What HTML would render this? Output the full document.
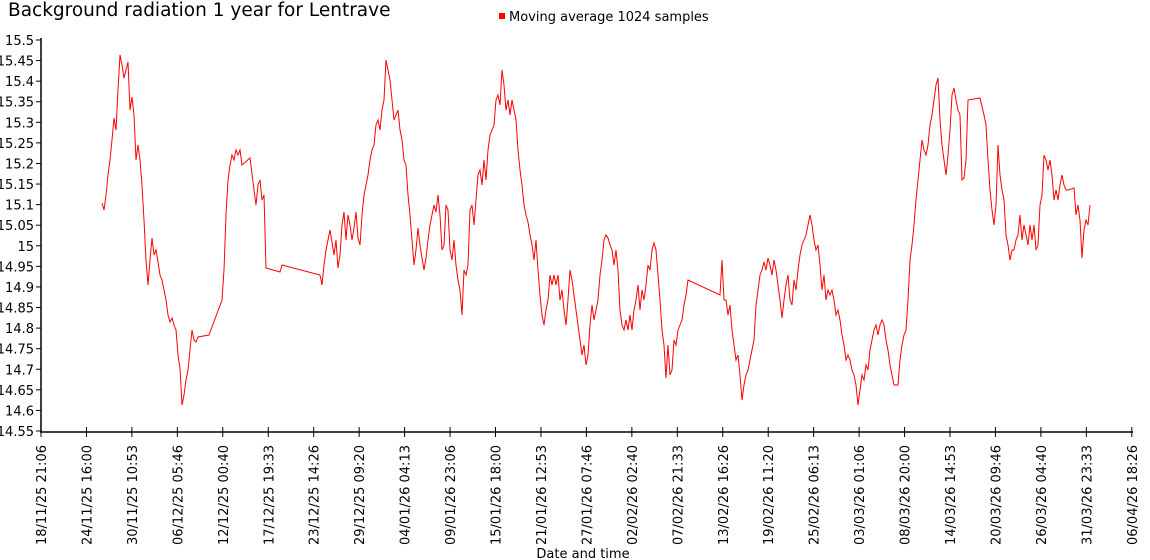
<!DOCTYPE html>
<html><head><meta charset="utf-8"><style>
body{margin:0;background:#fff}
svg{display:block;font-family:"DejaVu Sans","Liberation Sans",sans-serif}
</style></head><body>
<svg width="1150" height="560" viewBox="0 0 1150 560" xmlns="http://www.w3.org/2000/svg">
<text x="8" y="16" font-size="18.5" fill="#000">Background radiation 1 year for Lentrave</text>
<rect x="499" y="13" width="6" height="6" fill="#f00"/>
<text x="509" y="21" font-size="13" fill="#000">Moving average 1024 samples</text>
<g stroke="#000" stroke-width="1.5" fill="none">
<line x1="41" y1="38" x2="41" y2="432"/>
<line x1="40" y1="432" x2="1133" y2="432"/>
</g>
<g id="yt" font-size="13" text-anchor="end" fill="#000">
</g>
<g id="xt" font-size="13" fill="#000"></g>
<polyline fill="none" stroke="#f00" stroke-width="1" points="102,203 104,210 106,195 108,175 110,160 112,140 114,118 116,130 118,90 120,55 122,65 124,78 126,70 128,62 130,110 132,97 134,115 136,160 138,145 140,160 142,185 144,220 146,260 148,285 150,260 152,238 154,255 156,250 158,262 160,275 162,280 164,290 166,300 168,315 170,322 172,318 174,325 176,330 178,355 180,368 182,405 184,395 186,380 188,370 190,350 192,330 194,340 196,342 198,337 209,335 222,300 224,270 226,215 228,180 230,165 232,155 234,160 236,150 238,155 240,150 242,165 250,158 254,190 256,205 258,185 260,180 262,200 264,195 266,268 280,272 282,265 320,275 322,285 324,265 326,250 328,240 330,230 334,255 336,240 338,268 340,255 342,225 344,212 346,240 348,215 350,225 352,240 354,228 356,212 358,238 360,245 362,215 364,195 366,185 368,175 370,160 372,150 374,145 376,125 378,120 380,130 382,110 384,100 386,60 388,70 390,80 392,100 394,120 396,115 398,110 400,130 402,140 404,160 406,165 408,195 410,215 412,240 414,265 416,250 418,228 420,245 422,258 424,270 426,258 428,240 430,225 432,215 434,205 436,212 438,195 440,215 442,250 444,245 446,205 448,210 450,250 452,260 454,240 456,265 458,280 460,290 462,315 464,270 466,275 468,265 470,210 472,205 474,225 476,200 478,175 480,170 482,185 484,160 486,180 488,150 490,135 492,130 494,125 496,100 498,95 500,105 502,70 504,85 506,110 508,100 510,115 512,100 514,110 516,120 518,150 520,170 522,185 524,205 526,215 528,222 530,235 532,245 534,260 536,240 538,270 540,295 542,315 544,325 546,310 548,300 550,275 552,285 554,275 556,285 558,275 560,300 562,290 564,310 566,325 568,300 570,270 572,280 574,295 576,310 578,325 580,340 582,355 584,345 586,365 588,355 590,325 592,305 594,320 596,310 598,300 600,275 602,260 604,240 606,235 608,238 610,245 612,250 614,265 616,250 618,270 620,310 622,325 624,330 626,320 628,330 630,315 632,330 634,310 636,300 638,285 640,310 642,290 644,300 646,285 648,265 650,270 652,250 654,243 656,250 658,275 660,300 662,330 664,345 666,378 668,345 670,375 672,370 674,340 676,345 678,330 680,325 682,320 684,305 686,295 688,280 720,295 722,260 724,300 726,300 728,315 730,305 732,330 734,345 736,360 738,355 740,375 742,400 744,385 746,375 748,370 750,360 752,350 754,340 756,305 758,290 760,275 762,270 764,262 766,270 768,258 770,265 772,275 774,260 776,270 778,285 780,300 782,318 784,300 786,285 788,275 790,300 792,305 794,280 796,290 798,270 800,255 802,245 804,240 806,235 808,225 810,215 812,225 814,240 816,250 818,245 820,265 822,290 824,275 826,300 828,290 830,295 832,290 834,300 836,315 838,310 840,320 842,335 844,345 846,360 848,355 850,360 852,370 854,375 856,385 858,405 860,390 862,375 864,380 866,365 868,370 870,350 872,340 874,330 876,325 878,335 880,325 882,320 884,325 886,340 888,350 890,365 892,375 894,385 896,385 898,385 900,360 902,345 904,335 906,330 908,300 910,260 912,245 914,225 916,200 918,180 920,160 922,140 924,150 926,155 928,145 930,125 932,115 934,100 936,85 938,78 940,120 942,145 944,160 946,175 948,155 950,130 952,95 954,88 956,100 958,110 960,115 962,180 964,178 966,160 968,100 980,98 984,115 986,125 988,160 990,190 992,210 994,225 996,205 998,145 1000,175 1002,190 1004,200 1006,235 1008,245 1010,260 1012,250 1014,250 1016,240 1018,235 1020,215 1022,240 1024,225 1026,235 1028,245 1030,225 1032,240 1034,225 1036,250 1038,245 1040,205 1042,195 1044,155 1046,160 1048,170 1050,160 1052,175 1054,200 1056,190 1058,200 1060,185 1062,175 1064,185 1066,190 1068,190 1074,188 1076,215 1078,205 1080,220 1082,258 1084,230 1086,220 1088,225 1090,205"/>
<text x="583" y="558" font-size="13" text-anchor="middle" fill="#000">Date and time</text>
<script>
var ns="http://www.w3.org/2000/svg";
var yl=["15.5","15.45","15.4","15.35","15.3","15.25","15.2","15.15","15.1","15.05","15","14.95","14.9","14.85","14.8","14.75","14.7","14.65","14.6","14.55"];
var yt=document.getElementById("yt");
yl.forEach(function(l,i){var y=40+i*(391/19);
var t=document.createElementNS(ns,"text");t.setAttribute("x",34);t.setAttribute("y",y+5);t.textContent=l;yt.appendChild(t);
var ln=document.createElementNS(ns,"line");ln.setAttribute("x1",36);ln.setAttribute("x2",41);ln.setAttribute("y1",y);ln.setAttribute("y2",y);ln.setAttribute("stroke","#000");yt.appendChild(ln);});
var xl=["18/11/25 21:06","24/11/25 16:00","30/11/25 10:53","06/12/25 05:46","12/12/25 00:40","17/12/25 19:33","23/12/25 14:26","29/12/25 09:20","04/01/26 04:13","09/01/26 23:06","15/01/26 18:00","21/01/26 12:53","27/01/26 07:46","02/02/26 02:40","07/02/26 21:33","13/02/26 16:26","19/02/26 11:20","25/02/26 06:13","03/03/26 01:06","08/03/26 20:00","14/03/26 14:53","20/03/26 09:46","26/03/26 04:40","31/03/26 23:33","06/04/26 18:26"];
var xt=document.getElementById("xt");
xl.forEach(function(l,i){var x=41+i*45.45;
var ln=document.createElementNS(ns,"line");ln.setAttribute("x1",x);ln.setAttribute("x2",x);ln.setAttribute("y1",427);ln.setAttribute("y2",437);ln.setAttribute("stroke","#000");xt.appendChild(ln);
var t=document.createElementNS(ns,"text");t.setAttribute("transform","translate("+(x+5)+",545) rotate(-90)");t.textContent=l;xt.appendChild(t);});
</script>
</svg>
</body></html>
